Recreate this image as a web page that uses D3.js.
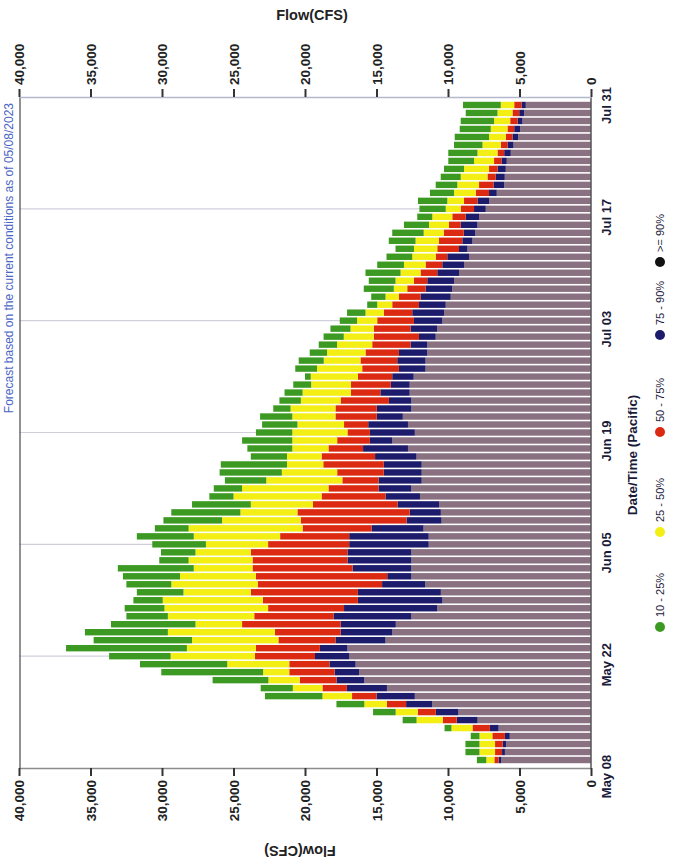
<!DOCTYPE html>
<html><head><meta charset="utf-8">
<script src="https://cdn.jsdelivr.net/npm/d3@7"></script>
<style>
body{margin:0;background:#fff}
text{font-family:"Liberation Sans",Arial,sans-serif}
</style>
</head><body>
<svg id="c" width="673" height="864"></svg>
<script>
// ---- data (CFS), one entry per day, first bar = May 09, last = Jul 30 ----
const firstBarDate = "2023-05-09";
const tickDates  = ["2023-05-08","2023-05-22","2023-06-05","2023-06-19","2023-07-03","2023-07-17","2023-07-31"];
const tickLabels = ["May 08","May 22","Jun 05","Jun 19","Jul 03","Jul 17","Jul 31"];
const flowTicks  = [0,5000,10000,15000,20000,25000,30000,35000,40000];
const legendLabels = ["10 - 25%","25 - 50%","50 - 75%","75 - 90%",">= 90%"];

// exceedance levels (top of each band)
const p10 = [7980,8780,8780,8410,10240,13170,15240,17800,22800,23100,
  26460,30050,31540,33700,36710,34780,35390,33570,32490,32610,
  32000,31760,32490,32730,33090,30190,30070,30680,31760,30500,
  29900,29350,27900,26690,26380,25600,25970,25890,23790,24030,
  24400,23430,23000,23140,22220,21790,21430,20820,20000,20680,
  20440,19670,19040,18700,18220,17570,17060,15650,15370,15890,
  15540,15770,14950,14300,13670,14140,13900,13080,12150,12000,
  12100,11260,10860,10510,10280,9980,9980,9580,9530,9180,
  9110,8760,8950];
const p25 = [7320,7800,7800,7800,9760,12200,13660,15850,18780,20850,
  22560,22930,25440,29400,28260,27900,29590,27660,29590,29830,
  29950,28500,29350,28740,27780,28140,27660,26930,27780,28140,
  25800,24520,23790,25000,24400,22710,21620,21260,21260,20890,
  20890,20890,20530,20890,21010,20290,20170,19570,19600,19160,
  18690,18460,17760,17290,16820,16360,15770,14950,14370,13790,
  13670,13320,13080,12500,12380,12270,11700,11330,11100,10160,
  10050,9580,9350,9110,8880,8180,7940,7590,7130,7010,
  6780,6540,6310];
const p50 = [6760,6710,6710,6900,8290,10370,12120,14270,16710,18780,
  20370,21100,21100,23500,23430,21860,22100,24400,23550,22580,
  22950,23790,23310,23430,23670,23670,23790,22580,21740,20170,
  20300,20530,19440,18840,18360,17390,17750,18720,18840,18360,
  17750,17030,17270,17870,17870,17510,16790,16790,16300,16000,
  16120,15770,15300,15190,15190,14950,14490,13900,13430,12850,
  12380,11920,11570,10860,10750,10630,10300,9930,9700,9110,
  8880,8060,7830,7240,7130,6780,6540,6310,5960,5840,
  5650,5490,5370];
const p75 = [6460,6220,6170,6020,7070,9390,10850,12930,15000,17070,
  17800,17930,18290,19300,18960,17870,17510,17510,18000,17270,
  16300,16300,14610,14250,16670,17030,17030,16910,16910,15340,
  12900,12680,13530,14370,14860,14860,14490,14490,15100,15940,
  15460,15460,15580,14980,14980,14130,14730,14000,13900,13430,
  13550,13430,12620,12030,12620,12380,12500,12030,11920,11570,
  11450,10750,10400,10050,9230,9000,8900,9110,8760,8180,
  7940,7130,6820,6660,6540,6260,6070,5840,5490,5370,
  5140,5020,4860];
const p90 = [6270,6020,5930,5680,6460,7930,9270,11100,12320,14270,
  15850,16220,16460,16900,17030,14370,13890,13650,12560,10750,
  10390,10500,11590,12560,12560,12560,12560,11350,11350,11710,
  10450,10500,10630,11960,12560,11840,11840,11840,12200,12800,
  13890,12320,12800,13160,12560,12560,12680,12680,12400,11570,
  11570,11450,11450,10860,10750,10400,10280,10160,9810,9700,
  9580,9230,8880,8530,8640,8290,8100,7940,7830,7360,
  7130,6590,6070,6030,5960,5890,5610,5420,5090,4950,
  4790,4670,4560];

// ---- layout ----
const svg = d3.select("#c");
const parse = d3.timeParse("%Y-%m-%d");
const X0 = 591, X40 = 19, YT = 97, YB = 768;
const x = d3.scaleLinear().domain([0,40000]).range([X0, X40]);
const y = d3.scaleTime().domain([parse(tickDates[0]), parse(tickDates[tickDates.length-1])]).range([YB, YT]);
const d0 = parse(firstBarDate);
const days = p10.map((_, i) => d3.timeDay.offset(d0, i));
const barH = 6.4;

const colors = {g:"#3c9a22", yl:"#f3ee14", r:"#dc2a12", n:"#1d1c6c", b:"#8a7181"};

// gridlines
svg.append("g").selectAll("line").data(tickDates.slice(1,-1)).join("line")
  .attr("x1", X40).attr("x2", X0)
  .attr("y1", d => y(parse(d))).attr("y2", d => y(parse(d)))
  .attr("stroke", "#cfd0dc").attr("stroke-width", 1.2);

// bands: [lower, upper, color]
const bands = [
  [null, p90, colors.b],
  [p90, p75, colors.n],
  [p75, p50, colors.r],
  [p50, p25, colors.yl],
  [p25, p10, colors.g]
];
const barsG = svg.append("g");
bands.forEach(([lo, hi, col]) => {
  barsG.append("g").selectAll("rect").data(days).join("rect")
    .attr("x", (d, i) => x(hi[i]))
    .attr("width", (d, i) => Math.max(0, x(lo ? lo[i] : 0) - x(hi[i])))
    .attr("y", d => y(d) - barH/2)
    .attr("height", barH)
    .attr("fill", col);
});

// frame lines
svg.append("line").attr("x1", X40+1).attr("x2", X40+1).attr("y1", YT).attr("y2", YB)
  .attr("stroke", "#6d6d6d").attr("stroke-width", 1.5);
svg.append("line").attr("x1", X0).attr("x2", X0).attr("y1", YT).attr("y2", YB)
  .attr("stroke", "#555").attr("stroke-width", 1.5);

// top value axis
const fmt = d3.format(",");
const topAx = svg.append("g").attr("transform", `translate(0,${YT})`)
  .call(d3.axisTop(x).tickValues(flowTicks).tickFormat(fmt).tickSize(8).tickSizeOuter(0));
topAx.select(".domain").attr("stroke", "#b4b8cc").attr("stroke-width", 1.5);
topAx.selectAll(".tick line").attr("stroke", "#333").attr("stroke-width", 2);
topAx.selectAll(".tick text")
  .attr("transform", "rotate(-90)").attr("x", 12).attr("y", 0).attr("dy", "0.35em")
  .attr("text-anchor", "start").attr("font-size", 13.5).attr("font-weight", "bold").attr("fill", "#222")
  .style("font-family", "'Liberation Sans',Arial,sans-serif");

// bottom value axis
const botAx = svg.append("g").attr("transform", `translate(0,${YB})`)
  .call(d3.axisBottom(x).tickValues(flowTicks).tickFormat(fmt).tickSize(8).tickSizeOuter(0));
botAx.select(".domain").attr("stroke", "#8c8c8c").attr("stroke-width", 1.5);
botAx.selectAll(".tick line").attr("stroke", "#333").attr("stroke-width", 2);
botAx.selectAll(".tick text")
  .attr("transform", "rotate(-90)").attr("x", -12).attr("y", 0).attr("dy", "0.35em")
  .attr("text-anchor", "end").attr("font-size", 13.5).attr("font-weight", "bold").attr("fill", "#222")
  .style("font-family", "'Liberation Sans',Arial,sans-serif");

// axis titles
svg.append("text").attr("x", 312).attr("y", 20).attr("text-anchor", "middle")
  .attr("font-size", 14.5).attr("font-weight", "bold").attr("fill", "#222").text("Flow(CFS)");
svg.append("text").attr("transform", "translate(300,846) rotate(180)").attr("text-anchor", "middle")
  .attr("font-size", 14.5).attr("font-weight", "bold").attr("fill", "#222").text("Flow(CFS)");

// date axis on the right
const dateAx = svg.append("g").attr("transform", `translate(${X0},0)`)
  .call(d3.axisRight(y).tickValues(tickDates.map(parse)).tickFormat((d, i) => tickLabels[i]).tickSize(0));
dateAx.select(".domain").remove();
dateAx.selectAll(".tick text")
  .attr("transform", "rotate(-90)").attr("x", -8).attr("y", 20).attr("dy", "0")
  .attr("text-anchor", "middle").attr("font-size", 13).attr("font-weight", "bold").attr("fill", "#1a1a3a")
  .style("font-family", "'Liberation Sans Narrow','Liberation Sans',Arial,sans-serif");

svg.append("text").attr("transform", "translate(637,455) rotate(-90)").attr("text-anchor", "middle")
  .attr("font-size", 13.5).attr("font-weight", "bold").attr("fill", "#1a1a3a")
  .style("font-family", "'Liberation Sans Narrow','Liberation Sans',Arial,sans-serif")
  .text("Date/Time (Pacific)");

// legend
const legColors = [colors.g, colors.yl, colors.r, colors.n, "#111"];
const legPos = [0, 95, 195, 292, 365];
const leg = svg.append("g").attr("transform", "translate(660,627) rotate(-90)");
legendLabels.forEach((t, i) => {
  leg.append("circle").attr("cx", legPos[i]).attr("cy", 0).attr("r", 5).attr("fill", legColors[i]);
  leg.append("text").attr("x", legPos[i] + 10).attr("y", 0).attr("dy", "0.35em")
    .attr("font-size", 11).attr("fill", "#1a1a3a")
    .style("font-family", "'Liberation Sans Narrow','Liberation Sans',Arial,sans-serif").text(t);
});

// subtitle (blue, rotated)
svg.append("text").attr("transform", "translate(13,103) rotate(-90)").attr("text-anchor", "end")
  .attr("font-size", 12).attr("fill", "#4a66c4")
  .text("Forecast based on the current conditions as of 05/08/2023");
</script>
</body></html>
